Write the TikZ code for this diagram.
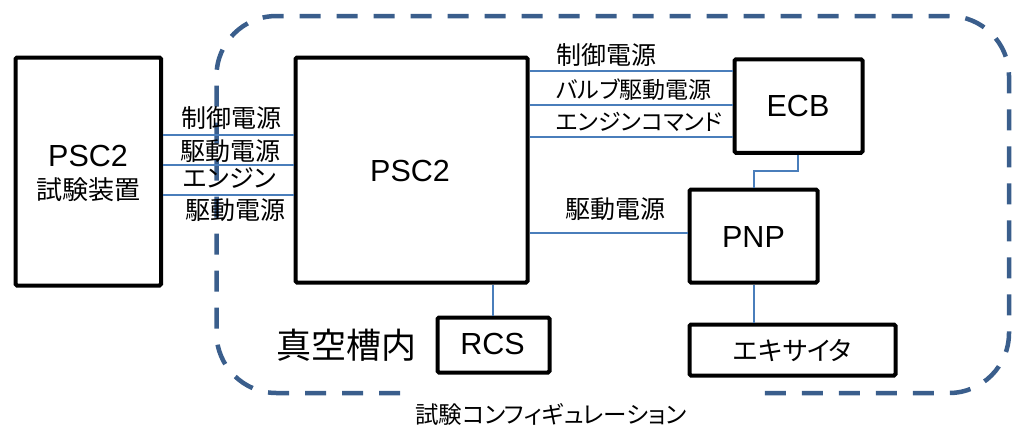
\documentclass[tikz,border=0pt]{standalone}
\usepackage{fontspec}
\setmainfont{Liberation Sans}
\newfontfamily\jp{Noto Sans CJK JP}[RawFeature=+palt]
\definecolor{dashc}{RGB}{58,94,140}
\definecolor{wirec}{RGB}{74,126,187}
\begin{document}
\begin{tikzpicture}[x=1pt,y=-1pt,
  box/.style={draw,line width=4pt,rounded corners=1.5pt,inner sep=0pt},
  wire/.style={draw=wirec,line width=1.5pt},
  lab/.style={font=\jp\fontsize{25}{28}\selectfont,inner sep=0pt},
  kana/.style={font=\jp\fontsize{23}{28}\selectfont,inner sep=0pt},
  big/.style={font=\fontsize{30.5}{34}\selectfont,inner sep=0pt}]
\useasboundingbox (0,0) rectangle (1012,429);
% enclosure
\draw[dashc,line width=4.5pt,dash pattern=on 21pt off 16pt,rounded corners=60pt]
  (400,393) -- (216.5,393) -- (216.5,16) -- (1009,16) -- (1009,393) -- (757,393);
% boxes
\node[box,minimum width=145.5pt,minimum height=228pt] (L) at (88.25,171.5) {};
\node[box,minimum width=232pt,minimum height=225pt] (M) at (411.5,170) {};
\node[box,minimum width=128pt,minimum height=93.5pt] (ECB) at (798.5,106) {};
\node[box,minimum width=128pt,minimum height=93pt] (PNP) at (753.5,236) {};
\node[box,minimum width=206pt,minimum height=51pt] (EX) at (792.5,350) {};
\node[box,minimum width=112pt,minimum height=55pt] (RCS) at (493.5,345) {};
% box texts
\node[big] (tL1) at (88,156) {PSC2};
\node[lab,font=\jp\fontsize{26}{28}\selectfont] (tL2) at (88,190) {試験装置};
\node[big] (tM) at (410,171) {PSC2};
\node[big] (tE) at (798,106) {ECB};
\node[big] (tP) at (753.5,237) {PNP};
\node[lab,font=\jp\fontsize{26}{30}\selectfont] (tX) at (792.5,351) {エキサイタ};
\node[big] (tR) at (492.5,344) {RCS};
% left wires
\coordinate (lw1) at (L.east |- 0,135);
\coordinate (lw2) at (L.east |- 0,165);
\coordinate (lw3) at (L.east |- 0,195);
\draw[wire] (lw1) -- (lw1 -| M.west);
\draw[wire] (lw2) -- (lw2 -| M.west);
\draw[wire] (lw3) -- (lw3 -| M.west);
\node[lab,anchor=west] (a1) at (181,118) {制御電源};
\node[lab,anchor=west] (a2) at (180,151) {駆動電源};
\node[lab,anchor=west] (a3) at (183,178) {エンジン};
\node[lab,anchor=west] (a4) at (185,210) {駆動電源};
% ECB wires
\coordinate (ew1) at (M.east |- 0,71);
\coordinate (ew2) at (M.east |- 0,105);
\coordinate (ew3) at (M.east |- 0,137);
\draw[wire] (ew1) -- (ew1 -| ECB.west);
\draw[wire] (ew2) -- (ew2 -| ECB.west);
\draw[wire] (ew3) -- (ew3 -| ECB.west);
\node[lab,anchor=west] (b1) at (556,55) {制御電源};
\node[kana,anchor=west] (b2) at (556,90) {バルブ駆動電源};
\node[kana,anchor=west] (b3) at (556,122) {エンジンコマンド};
% PNP wire
\coordinate (pw) at (M.east |- 0,233);
\draw[wire] (pw) -- (pw -| PNP.west);
\node[lab] (c1) at (615,209) {駆動電源};
% ECB - PNP
\coordinate (eb) at (798,0);
\draw[wire] (eb |- ECB.south) -- (798,171) -- (754,171) -- (754,0 |- PNP.north);
% PNP - exciter
\draw[wire] (754,0 |- PNP.south) -- (754,0 |- EX.north);
% PSC2 - RCS
\draw[wire] (493,0 |- M.south) -- (493,0 |- RCS.north);
% labels
\node[lab,font=\jp\fontsize{35}{40}\selectfont] (v) at (346,345) {真空槽内};
\node[lab,anchor=west,font=\jp\fontsize{23.5}{28}\selectfont] (cfg) at (415,414) {試験コンフィギュレーション};
\end{tikzpicture}
\end{document}
